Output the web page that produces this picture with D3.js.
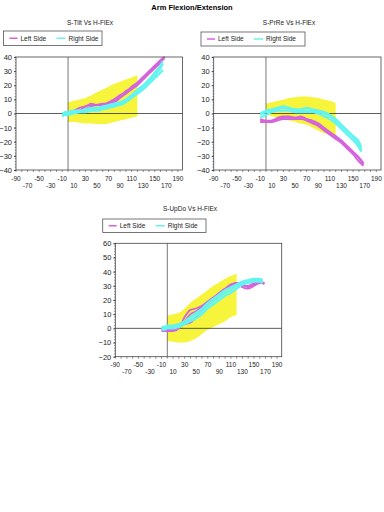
<!DOCTYPE html>
<html><head><meta charset="utf-8">
<script src="https://cdn.jsdelivr.net/npm/d3@7"></script>
<style>body{margin:0;background:#fff}svg{display:block}text{font-family:"Liberation Sans",Arial,sans-serif}</style>
</head><body>
<script>
const mainTitle = "Arm Flexion/Extension";
const legendLabels = ["Left Side", "Right Side"];
const xTicksRow1 = [-90, -50, -10, 30, 70, 110, 150, 190];
const xTicksRow2 = [-70, -30, 10, 50, 90, 130, 170];
const xDomain = [-90, 198];

// Chart 1: S-Tilt
const tiltTitle = "S-Tilt Vs H-FlEx";
const tiltY = [-40, 40];
const tiltYTicks = [-40, -30, -20, -10, 0, 10, 20, 30, 40];
const tiltBandX = [0, 10, 20, 30, 40, 50, 60, 70, 80, 90, 100, 110, 120];
const tiltBandHi = [8, 9, 10, 11, 13, 15, 17, 19, 21, 22.5, 24, 25.5, 27];
const tiltBandLo = [-6, -6, -6.5, -7, -7, -7.5, -7.5, -7, -6, -5, -4, -3, -2];
const tiltLeftX = [-5, 0, 10, 20, 30, 40, 50, 60, 70, 80, 90, 100, 110, 120, 130, 140, 150, 160, 167];
const tiltLeft1 = [0, 1, 1, 2, 5, 6, 6, 6, 7, 8, 11, 14, 17, 20, 24, 28, 32, 36, 40];
const tiltLeft2 = [-1, 0, 1, 2, 3, 5, 6, 7, 7, 9, 12, 16, 18, 21, 25, 29, 33, 37, 39];
const tiltLeft3 = [0, 1, 2, 4, 5, 7, 6, 6, 8, 10, 13, 15, 19, 22, 26, 30, 34, 38, 40];
const tiltRightX = [-10, -5, 0, 10, 20, 30, 40, 50, 60, 70, 80, 90, 100, 110, 120, 130, 140, 150, 160, 164];
const tiltRight1 = [-1, 0, 0, 1, 1, 2, 3, 3, 4, 5, 6, 7, 9, 12, 15, 19, 23, 27, 32, 35];
const tiltRight2 = [-2, -1, -1, 0, 1, 1, 2, 2, 3, 4, 5, 6, 8, 11, 14, 17, 21, 25, 29, 31];
const tiltRight3 = [0, 1, 1, 2, 2, 3, 4, 4, 5, 6, 7, 8, 10, 13, 17, 20, 24, 29, 34, 37];

// Chart 2: S-PrRe
const prreTitle = "S-PrRe Vs H-FlEx";
const prreY = [-40, 40];
const prreYTicks = [-40, -30, -20, -10, 0, 10, 20, 30, 40];
const prreBandX = [0, 10, 20, 30, 40, 50, 60, 70, 80, 90, 100, 110, 120];
const prreBandHi = [7, 8, 9, 10, 11, 11.5, 12, 12, 11.5, 11, 10, 9, 7.5];
const prreBandLo = [0, -2, -3, -4, -5, -6, -7, -8, -10, -12, -14, -15, -16];
const prreLeftX = [-10, 0, 10, 20, 30, 40, 50, 60, 70, 80, 90, 100, 110, 120, 130, 140, 150, 160, 168];
const prreLeft1 = [-5, -6, -5, -4, -3, -3, -3, -3, -4, -6, -8, -11, -14, -17, -20, -24, -28, -32, -36];
const prreLeft2 = [-4, -5, -5, -3, -2, -2, -3, -2, -4, -5, -7, -10, -13, -16, -19, -23, -27, -31, -35];
const prreLeft3 = [-6, -6, -6, -5, -4, -4, -4, -4, -5, -7, -9, -12, -15, -18, -21, -25, -29, -34, -37];
const prreRightX = [-10, 0, 10, 20, 30, 40, 50, 60, 70, 80, 90, 100, 110, 120, 130, 140, 150, 160, 164];
const prreRight1 = [-1, 1, 2, 3, 4, 3, 2, 2, 2, 2, 1, 0, -2, -5, -9, -13, -17, -22, -26];
const prreRight2 = [-3, -1, 1, 2, 2, 2, 1, 1, 1, 1, 0, -2, -4, -7, -11, -15, -19, -24, -27];
const prreRight3 = [0, 2, 3, 4, 5, 4, 3, 3, 4, 3, 2, 1, -1, -4, -8, -12, -16, -20, -24];

// Chart 3: S-UpDo
const updoTitle = "S-UpDo Vs H-FlEx";
const updoY = [-20, 60];
const updoYTicks = [-20, -10, 0, 10, 20, 30, 40, 50, 60];
const updoBandX = [0, 10, 20, 30, 40, 50, 60, 70, 80, 90, 100, 110, 120];
const updoBandHi = [9, 10, 11, 14, 18, 21, 24, 27, 30, 32.5, 35, 37, 38.5];
const updoBandLo = [-9, -9.5, -10, -10, -9, -7, -4, -1, 1, 3, 5, 8, 9.5];
const updoLeftX = [-10, 0, 10, 20, 30, 40, 50, 60, 70, 80, 90, 100, 110, 120, 130, 140, 150, 160, 168];
const updoLeft1 = [-1, -2, -2, 0, 8, 13, 14, 16, 19, 22, 25, 28, 30, 32, 31, 29, 31, 33, 32];
const updoLeft2 = [-2, -2, -1, 1, 3, 4, 8, 13, 18, 21, 24, 27, 29, 31, 30, 30, 32, 33, 31];
const updoLeft3 = [0, -1, -1, 2, 5, 10, 12, 15, 18, 21, 25, 28, 31, 32, 29, 28, 30, 32, 32];
const updoRightX = [-10, -5, 0, 10, 20, 30, 40, 50, 60, 70, 80, 90, 100, 110, 120, 130, 140, 150, 160, 165];
const updoRight1 = [0, 0, 1, 1, 2, 4, 6, 9, 12, 16, 19, 22, 25, 27, 30, 32, 33, 34, 34, 33];
const updoRight2 = [-1, -1, 0, 0, 1, 3, 5, 7, 10, 14, 17, 20, 23, 25, 28, 31, 32, 33, 33, 32];
const updoRight3 = [1, 1, 2, 2, 3, 5, 8, 11, 14, 18, 21, 24, 27, 29, 31, 33, 34, 35, 35, 34];

const COL_L = "#d564dc", COL_R = "#64f4f0", COL_BAND = "#f6f53c";

const svg = d3.select("body").append("svg").attr("width", 384).attr("height", 512);
svg.append("rect").attr("width", 384).attr("height", 512).attr("fill", "#fff");
svg.append("text").attr("x", 192).attr("y", 9.5).attr("text-anchor", "middle")
  .attr("font-size", 7.5).attr("font-weight", "bold").text(mainTitle);

const charts = [
  {title: tiltTitle, yDom: tiltY, yTicks: tiltYTicks, bx: tiltBandX, hi: tiltBandHi, lo: tiltBandLo,
   lx: tiltLeftX, left: [tiltLeft1, tiltLeft2, tiltLeft3], rx: tiltRightX, right: [tiltRight1, tiltRight2, tiltRight3],
   box: [16, 57, 182.5, 170], tx: 90, ty: 25, leg: [3.5, 31, 102, 45.5]},
  {title: prreTitle, yDom: prreY, yTicks: prreYTicks, bx: prreBandX, hi: prreBandHi, lo: prreBandLo,
   lx: prreLeftX, left: [prreLeft1, prreLeft2, prreLeft3], rx: prreRightX, right: [prreRight1, prreRight2, prreRight3],
   box: [213.7, 57, 381, 170], tx: 289, ty: 25, leg: [201, 32, 305, 46]},
  {title: updoTitle, yDom: updoY, yTicks: updoYTicks, bx: updoBandX, hi: updoBandHi, lo: updoBandLo,
   lx: updoLeftX, left: [updoLeft1, updoLeft2, updoLeft3], rx: updoRightX, right: [updoRight1, updoRight2, updoRight3],
   box: [115.3, 243.3, 281.7, 356.7], tx: 190, ty: 211, leg: [102.7, 219, 206, 232.5]}
];

charts.forEach(c => {
  const [x0, y0, x1, y1] = c.box;
  const x = d3.scaleLinear().domain(xDomain).range([x0, x1]);
  const y = d3.scaleLinear().domain(c.yDom).range([y1, y0]);
  const g = svg.append("g");

  g.append("text").attr("x", c.tx).attr("y", c.ty).attr("text-anchor", "middle")
    .attr("font-size", 6.5).attr("fill", "#222").text(c.title);

  // legend
  const [lx0, ly0, lx1, ly1] = c.leg;
  g.append("rect").attr("x", lx0).attr("y", ly0).attr("width", lx1 - lx0).attr("height", ly1 - ly0)
    .attr("fill", "#fff").attr("stroke", "#555").attr("stroke-width", 0.8);
  const lm = (ly0 + ly1) / 2;
  g.append("line").attr("x1", lx0 + 6).attr("x2", lx0 + 14).attr("y1", lm).attr("y2", lm).attr("stroke", COL_L).attr("stroke-width", 1.5);
  g.append("text").attr("x", lx0 + 17).attr("y", lm + 2.3).attr("font-size", 6.5).attr("fill", "#222").text(legendLabels[0]);
  g.append("line").attr("x1", lx0 + 53).attr("x2", lx0 + 62).attr("y1", lm).attr("y2", lm).attr("stroke", COL_R).attr("stroke-width", 1.5);
  g.append("text").attr("x", lx0 + 65).attr("y", lm + 2.3).attr("font-size", 6.5).attr("fill", "#222").text(legendLabels[1]);

  // band
  const area = d3.area().x(i => x(c.bx[i])).y0(i => y(c.lo[i])).y1(i => y(c.hi[i])).curve(d3.curveMonotoneX);
  g.append("path").attr("d", area(d3.range(c.bx.length))).attr("fill", COL_BAND);

  // zero lines
  g.append("line").attr("x1", x0).attr("x2", x1).attr("y1", y(0)).attr("y2", y(0)).attr("stroke", "#333").attr("stroke-width", 0.8);
  g.append("line").attr("x1", x(0)).attr("x2", x(0)).attr("y1", y0).attr("y2", y1).attr("stroke", "#555").attr("stroke-width", 0.8);

  const clipId = "clip" + Math.round(x0);
  svg.append("clipPath").attr("id", clipId).append("rect").attr("x", x0).attr("y", y0 - 1).attr("width", x1 - x0).attr("height", y1 - y0 + 1);
  const lines = g.append("g").attr("clip-path", `url(#${clipId})`);
  c.left.forEach(ys => {
    const ln = d3.line().x((d, i) => x(c.lx[i])).y(d => y(d)).curve(d3.curveMonotoneX);
    lines.append("path").attr("d", ln(ys)).attr("fill", "none").attr("stroke", COL_L).attr("stroke-width", 1.8);
  });
  c.right.forEach(ys => {
    const ln = d3.line().x((d, i) => x(c.rx[i])).y(d => y(d)).curve(d3.curveMonotoneX);
    lines.append("path").attr("d", ln(ys)).attr("fill", "none").attr("stroke", COL_R).attr("stroke-width", 2.2);
  });

  // frame
  g.append("rect").attr("x", x0).attr("y", y0).attr("width", x1 - x0).attr("height", y1 - y0)
    .attr("fill", "none").attr("stroke", "#444").attr("stroke-width", 0.8);

  // y axis
  const ya = d3.axisLeft(y).tickValues(c.yTicks).tickSize(2).tickFormat(d3.format("d"));
  const yg = g.append("g").attr("transform", `translate(${x0},0)`).call(ya);
  yg.select(".domain").remove();
  yg.selectAll("text").attr("font-size", 7.5).attr("fill", "#222").attr("dx", 1);
  yg.selectAll("line").attr("stroke", "#444");
  const yMinor = d3.range(c.yDom[0], c.yDom[1] + 0.1, 2);
  g.selectAll(null).data(yMinor).enter().append("line")
    .attr("x1", x0 - 1.2).attr("x2", x0).attr("y1", d => y(d)).attr("y2", d => y(d)).attr("stroke", "#444").attr("stroke-width", 0.6);

  // x axis ticks
  const xMinor = d3.range(-90, 191, 10);
  g.selectAll(null).data(xMinor).enter().append("line")
    .attr("x1", d => x(d)).attr("x2", d => x(d)).attr("y1", y1).attr("y2", y1 + 2).attr("stroke", "#444").attr("stroke-width", 0.6);
  g.selectAll(null).data(xTicksRow1).enter().append("text")
    .attr("x", d => x(d)).attr("y", y1 + 10.5).attr("text-anchor", "middle").attr("font-size", 6.5).attr("fill", "#222").text(d => d);
  g.selectAll(null).data(xTicksRow2).enter().append("text")
    .attr("x", d => x(d)).attr("y", y1 + 17.5).attr("text-anchor", "middle").attr("font-size", 6.5).attr("fill", "#222").text(d => d);
});
</script>
</body></html>
